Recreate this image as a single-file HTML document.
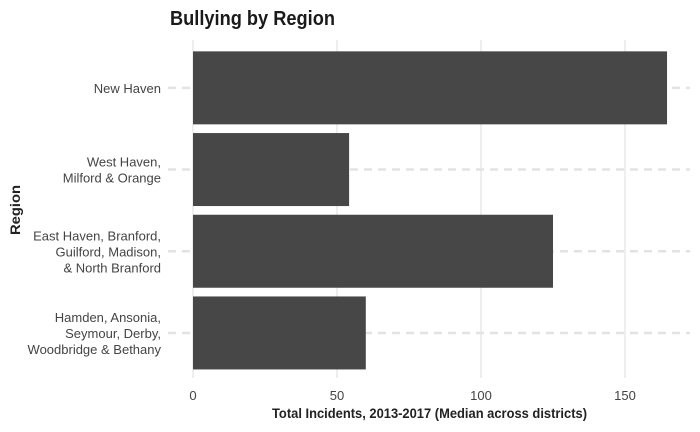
<!DOCTYPE html>
<html><head><meta charset="utf-8">
<style>
html,body{margin:0;padding:0;background:#fff;}
svg{display:block;font-family:"Liberation Sans Narrow","Liberation Sans",sans-serif;}
</style></head>
<body>
<svg id="chart" width="700" height="432">
<text x="170" y="25" font-size="20" font-weight="bold" fill="#1a1a1a" textLength="165" lengthAdjust="spacingAndGlyphs">Bullying by Region</text>
<g id="grid"></g>
<g id="bars"></g>
<g id="labels"></g>
<text x="272" y="418" font-size="14" font-weight="bold" fill="#222" textLength="315" lengthAdjust="spacingAndGlyphs">Total Incidents, 2013-2017 (Median across districts)</text>
<text transform="translate(20,210) rotate(-90)" font-size="14" font-weight="bold" fill="#222" text-anchor="middle" textLength="50" lengthAdjust="spacingAndGlyphs">Region</text>
</svg>
<script>
const categories = ["New Haven", "West Haven,|Milford & Orange", "East Haven, Branford,|Guilford, Madison,|& North Branford", "Hamden, Ansonia,|Seymour, Derby,|Woodbridge & Bethany"];
const values = [164.6, 54.2, 125, 60];
const ticks = [0, 50, 100, 150];

const NS = "http://www.w3.org/2000/svg";
const x0 = 193, pxPer = 2.88;
const xScale = v => x0 + v * pxPer;
const bandTop = 47, bandStep = 81.7, barH = 73;
const yCenter = i => bandTop + bandStep * i + bandStep / 2;
function mk(tag, attrs, parent) {
  const e = document.createElementNS(NS, tag);
  for (const k in attrs) e.setAttribute(k, attrs[k]);
  parent.appendChild(e);
  return e;
}
const grid = document.getElementById("grid");
const bars = document.getElementById("bars");
const labels = document.getElementById("labels");

ticks.forEach(t => {
  const l = mk("line", {x1: xScale(t), x2: xScale(t), y1: 40, y2: 378, stroke: "#dcdcdc", "stroke-width": 1}, grid);
  
  
  const tx = mk("text", {x: xScale(t), y: 400, "font-size": 13, fill: "#444", "text-anchor": "middle"}, labels);
  tx.textContent = t;
  
  
});

categories.forEach((c, i) => {
  const yc = yCenter(i);
  const g = mk("line", {x1: 168, x2: 690, y1: yc, y2: yc, stroke: "#e3e3e3", "stroke-width": 2.5, "stroke-dasharray": "8,6"}, grid);
  
  
  const r = mk("rect", {x: xScale(0), y: yc - barH / 2, width: xScale(values[i]) - xScale(0), height: barH, fill: "#474747"}, bars);
  
  
  const lines = c.split("|");
  const tx = mk("text", {x: 161, "font-size": 13, fill: "#444", "text-anchor": "end"}, labels);
  
  
  const lh = 16;
  lines.forEach((ln, j) => {
    const ts = mk("tspan", {x: 161, y: yc + 5 + (j - (lines.length - 1) / 2) * lh}, tx);
    ts.textContent = ln;
  });
});
</script>
</body></html>
